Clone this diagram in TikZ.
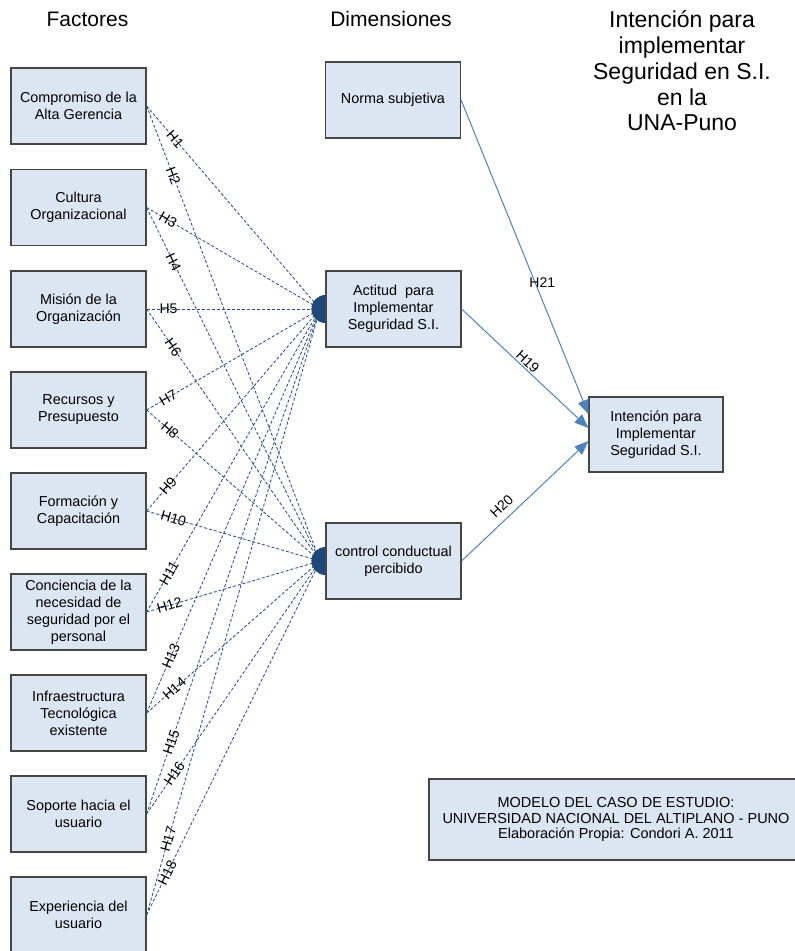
\documentclass[tikz,border=0pt]{standalone}
\usepackage{fontspec}
\setmainfont{Liberation Sans}
\usetikzlibrary{arrows.meta,backgrounds}

\definecolor{boxfill}{RGB}{220,230,242}
\definecolor{boxline}{RGB}{70,70,70}
\definecolor{hypline}{RGB}{40,78,145}
\definecolor{hubblue}{RGB}{31,73,125}
\definecolor{pathblue}{RGB}{79,129,189}

\begin{document}
\begin{tikzpicture}[x=1pt,y=-1pt,
  factor/.style={draw=boxline, fill=boxfill, line width=1.2pt,
    minimum width=135pt, minimum height=76pt, align=center,
    font=\fontsize{14.4}{17}\selectfont, inner sep=0pt},
  hyp/.style={draw=hypline, line width=0.85pt, dash pattern=on 3pt off 2pt},
  hlabel/.style={sloped, font=\fontsize{14}{14}\selectfont, inner sep=0pt},
  effect/.style={draw=pathblue, line width=1pt,
    -{Triangle[length=14pt,width=11pt]}},
  effectlabel/.style={font=\fontsize{14}{14}\selectfont, inner sep=0pt},
  heading/.style={font=\fontsize{21}{24}\selectfont, inner sep=0pt},
  titletext/.style={font=\fontsize{23}{25.75}\selectfont, align=center, inner sep=0pt},
]
\useasboundingbox (0,0) rectangle (795,951);

% column headings
\node[heading] (hf) at (87.5,19) {Factores};
\node[heading] (hd) at (391,19) {Dimensiones};
\node[titletext] (ht) at (682,71)
  {Intención para\\implementar\\Seguridad en S.I.\\en la\\UNA-Puno};

% factor boxes
\path
  (78.5,106)   node[factor] (f1) {Compromiso de la\\Alta Gerencia}
  (78.5,207.5) node[factor] (f2) {Cultura\\Organizacional}
  (78.5,309)   node[factor] (f3) {Misión de la\\Organización}
  (78.5,410)   node[factor] (f4) {Recursos y\\Presupuesto}
  (78.5,511)   node[factor] (f5) {Formación y\\Capacitación}
  (78.5,612)   node[factor] (f6) {Conciencia de la\\necesidad de\\seguridad por el\\personal}
  (78.5,713)   node[factor] (f7) {Infraestructura\\Tecnológica\\existente}
  (78.5,814)   node[factor] (f8) {Soporte hacia el\\usuario}
  (78.5,915)   node[factor] (f9) {Experiencia del\\usuario};

% dimension boxes
\node[factor] (n) at (393,100)   {Norma subjetiva};
\node[factor] (a) at (393.5,309) {Actitud\ \ para\\Implementar\\Seguridad S.I.};
\node[factor] (c) at (393.5,561) {control conductual\\percibido};

% hub points just inside the dimension boxes
\coordinate (ahub) at (320,309);
\coordinate (chub) at (320,561);

% outcome box
\node[factor, minimum width=134pt, minimum height=75pt] (fin) at (656,434.5)
  {Intención para\\Implementar\\Seguridad S.I.};

\begin{pgfonlayer}{background}
% hypotheses H1..H18: dashed links from each factor to both dimensions
\foreach \src/\dst/\pp/\lab in {
    f1/ahub/0.165/H1,  f1/chub/0.154/H2,
    f2/ahub/0.124/H3,  f2/chub/0.155/H4,
    f3/ahub/0.126/H5,  f3/chub/0.153/H6,
    f4/ahub/0.124/H7,  f4/chub/0.135/H8,
    f5/ahub/0.124/H9,  f5/chub/0.155/H10,
    f6/ahub/0.129/H11, f6/chub/0.132/H12,
    f7/ahub/0.141/H13, f7/chub/0.160/H14,
    f8/ahub/0.142/H15, f8/chub/0.160/H16,
    f9/ahub/0.125/H17, f9/chub/0.119/H18}
  \draw[hyp] (\src.east) -- (\dst) node[hlabel, pos=\pp] {\lab};

% merged arrowheads at the dimension inputs
\begin{scope}
  \clip ([xshift=-20pt,yshift=20pt]a.west) rectangle ([yshift=-20pt]a.west);
  \fill[hubblue] (a.west) circle[radius=14pt];
\end{scope}
\begin{scope}
  \clip ([xshift=-20pt,yshift=20pt]c.west) rectangle ([yshift=-20pt]c.west);
  \fill[hubblue] (c.west) circle[radius=14pt];
\end{scope}
\end{pgfonlayer}

% hypotheses H19..H21
\draw[effect] (n.east) -- ([yshift=20.5pt]fin.west)
  node[effectlabel, pos=0.583, xshift=7pt] {H21};
\draw[effect] (a.east) -- ([yshift=6.5pt]fin.west)
  node[effectlabel, sloped, pos=0.484, above=1.5pt] {H19};
\draw[effect] (c.east) -- ([yshift=-6.5pt]fin.west)
  node[effectlabel, sloped, pos=0.383, above=7pt] {H20};

% caption box
\node[draw=boxline, fill=boxfill, line width=1.2pt, minimum width=374pt,
  minimum height=81pt, align=center, inner sep=0pt,
  font=\fontsize{14.5}{15.5}\selectfont] (leg) at (616,819.5)
  {MODELO DEL CASO DE ESTUDIO:\\UNIVERSIDAD NACIONAL DEL ALTIPLANO - PUNO\\Elaboración Propia: Condori A. 2011};
\end{tikzpicture}
\end{document}
